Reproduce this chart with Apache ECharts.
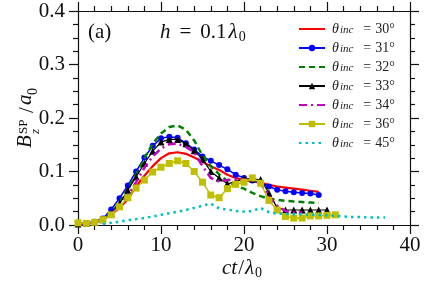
<!DOCTYPE html>
<html>
<head>
<meta charset="utf-8">
<script src="https://cdn.jsdelivr.net/npm/echarts@6/dist/echarts.min.js"></script>
<style>html,body{margin:0;padding:0;background:#fff;}#c{width:436px;height:285px;}</style>
</head>
<body>
<div id="c"></div>
<script>
// x positions (ct/lambda0) and values (B_z^SP/a0) per incidence angle
var x30 = [0,1,2,3,4,5,6,7,8,9,10,11,12,13,14,15,16,17,18,19,20,21,22,23,24,25,26,27,28,29];
var y30 = [0.002,0.003,0.005,0.010,0.020,0.032,0.048,0.072,0.092,0.110,0.125,0.134,0.136,0.133,0.126,0.118,0.110,0.103,0.094,0.088,0.084,0.082,0.079,0.075,0.072,0.070,0.068,0.066,0.064,0.062];
var x31 = [0,1,2,3,4,5,6,7,8,9,10,11,12,13,14,15,16,17,18,19,20,21,22,23,24,25,26,27,28,29];
var y31 = [0.003,0.003,0.006,0.012,0.029,0.050,0.074,0.100,0.126,0.148,0.162,0.165,0.163,0.153,0.141,0.128,0.120,0.112,0.104,0.094,0.088,0.083,0.079,0.072,0.066,0.063,0.061,0.060,0.059,0.056];
var x32 = [0,1,2,3,4,5,6,7,8,9,10,11,12,13,14,15,16,17,18,19,20,21,22,23,24,25,26,27,28,29];
var y32 = [0.002,0.003,0.005,0.010,0.022,0.042,0.068,0.095,0.125,0.152,0.171,0.183,0.186,0.178,0.158,0.130,0.110,0.095,0.082,0.073,0.068,0.060,0.054,0.049,0.047,0.045,0.044,0.043,0.042,0.041];
var x33 = [0,1,2,3,4,5,6,7,8,9,10,11,12,13,14,15,16,17,18,19,20,21,22,23,24,25,26,27,28,29,30];
var y33 = [0.002,0.003,0.005,0.010,0.022,0.040,0.065,0.090,0.115,0.138,0.155,0.160,0.160,0.152,0.139,0.123,0.100,0.088,0.077,0.081,0.087,0.086,0.085,0.060,0.032,0.028,0.028,0.028,0.028,0.028,0.028];
var x34 = [0,1,2,3,4,5,6,7,8,9,10,11,12,13,14,15,16,17,18,19,20,21,22,23,24,25,26,27];
var y34 = [0.002,0.003,0.005,0.010,0.020,0.035,0.055,0.080,0.107,0.128,0.143,0.151,0.152,0.146,0.136,0.110,0.088,0.081,0.084,0.085,0.085,0.084,0.078,0.053,0.036,0.026,0.024,0.024];
var x36 = [0,1,2,3,4,5,6,7,8,9,10,11,12,13,14,15,16,17,18,19,20,21,22,23,24,25,26,27,28,29,30,31];
var y36 = [0.004,0.003,0.005,0.010,0.019,0.034,0.051,0.069,0.084,0.099,0.108,0.115,0.120,0.115,0.100,0.080,0.056,0.051,0.068,0.076,0.080,0.088,0.078,0.046,0.028,0.016,0.013,0.013,0.017,0.017,0.018,0.019];
var x45 = [3,4,5,6,7,8,9,10,11,12,13,14,15,16,17,18,19,20,21,22,23,24,25,26,27,28,29,30,31,32,33,34,35,36,37];
var y45 = [0.002,0.004,0.006,0.009,0.011,0.013,0.016,0.019,0.022,0.025,0.028,0.032,0.036,0.040,0.031,0.029,0.026,0.025,0.026,0.032,0.024,0.021,0.021,0.020,0.020,0.019,0.019,0.018,0.017,0.016,0.015,0.015,0.014,0.014,0.014];

var angles = ['30','31','32','33','34','36','45'];
var xTicks = [0,10,20,30,40];
var yTicks = [0,0.1,0.2,0.3,0.4];

function pairs(xs, ys){ return xs.map(function(v,i){ return [v, ys[i]]; }); }

var serif = 'Liberation Serif';
var ink = '#111';
var chart = echarts.init(document.getElementById('c'), null, {renderer:'canvas'});

var axLine = {show:true, onZero:false, lineStyle:{color:ink, width:1.2}};
var axTick = {show:true, inside:false, length:9, lineStyle:{color:ink, width:1.2}};

function xAx(pos, showLabel){
  return {
    type:'value', position:pos, min:xTicks[0], max:xTicks[xTicks.length-1], interval:10,
    axisLine:axLine, axisTick:axTick, splitLine:{show:false},
    minorTick:{show:true, splitNumber:5, length:5, lineStyle:{color:ink, width:1.2}},
    axisLabel:{show:showLabel, fontFamily:serif, fontSize:21, color:ink, margin:10}
  };
}
function yAx(pos, showLabel){
  return {
    type:'value', position:pos, min:yTicks[0], max:yTicks[yTicks.length-1], interval:0.1,
    axisLine:axLine, axisTick:axTick, splitLine:{show:false},
    minorTick:{show:true, splitNumber:4, length:5, lineStyle:{color:ink, width:1.2}},
    axisLabel:{show:showLabel, fontFamily:serif, fontSize:21, color:ink, margin:13,
      formatter:function(v){ return v.toFixed(1); }}
  };
}

function mk(idx, xs, ys, color, opts){
  return {
    name: angles[idx], type:'line', data: pairs(xs, ys),
    color: color, z: 2 + idx,
    lineStyle:{color:color, width:opts.width, type:opts.type || 'solid'},
    symbol: opts.symbol || 'none', symbolSize: opts.size || 0, showSymbol: !!opts.symbol,
    itemStyle:{color:color}
  };
}

var styles = [
  {c:'#ff0000', o:{width:2.2}},
  {c:'#0000ff', o:{width:1.5, symbol:'circle', size:6}},
  {c:'#008000', o:{width:2.5, type:[6,4]}},
  {c:'#000000', o:{width:1.2, symbol:'triangle', size:7}},
  {c:'#bf00bf', o:{width:2.5, type:[8,4,2,4]}},
  {c:'#bfbf00', o:{width:1.5, symbol:'rect', size:7}},
  {c:'#00bfbf', o:{width:2.5, type:[2.5,4]}}
];
var xsAll = [x30,x31,x32,x33,x34,x36,x45];
var ysAll = [y30,y31,y32,y33,y34,y36,y45];
var series = styles.map(function(s,i){ return mk(i, xsAll[i], ysAll[i], s.c, s.o); });

var legendData = angles.map(function(a,i){
  var item = {name:a};
  if (!styles[i].o.symbol) item.itemStyle = {opacity:0};
  return item;
});

var subRich = function(size, pad){ return {fontFamily:serif, fontSize:size, verticalAlign:'bottom', lineHeight:24, padding:pad}; };

var option = {
  backgroundColor:'#fff',
  animation:false,
  grid:{left:78, right:26, top:11, bottom:60, containLabel:false},
  xAxis:[xAx('bottom', true), xAx('top', false)],
  yAxis:[yAx('left', true), yAx('right', false)],
  legend:{
    orient:'vertical', left:298, top:21, padding:0,
    itemWidth:26, itemHeight:8, itemGap:4,
    data: legendData,
    formatter:function(n){ return '{t|θ}{s|inc}{e|=}{n|' + n + '°}'; },
    textStyle:{
      fontFamily:serif, fontSize:14, color:'#222', lineHeight:14, padding:[0,0,0,2],
      rich:{
        t:{fontFamily:serif, fontStyle:'italic', fontSize:14, lineHeight:14},
        s:{fontFamily:serif, fontStyle:'italic', fontSize:11, verticalAlign:'bottom', lineHeight:14, padding:[4,4,0,1]},
        e:{fontFamily:serif, fontSize:14, lineHeight:14, padding:[0,4,0,6]},
        n:{fontFamily:serif, fontSize:14, lineHeight:14}
      }
    }
  },
  graphic:[
    {type:'text', left:88, top:22, style:{text:'(a)', font:'21px "Liberation Serif"', fill:ink}},
    {type:'text', left:160, top:22, style:{
      text:'{i|h}{e|=}{r|0.1}{i|λ}{s|0}', fill:ink,
      rich:{
        i:{fontFamily:serif, fontStyle:'italic', fontSize:21, lineHeight:24},
        e:{fontFamily:serif, fontSize:21, lineHeight:24, padding:[0,9,0,9]},
        r:{fontFamily:serif, fontSize:21, lineHeight:24, padding:[0,2,0,0]},
        s:subRich(14, [7,0,0,1])
      }}},
    {type:'text', left:222, top:258, style:{
      text:'{i|ct}{r|/}{i|λ}{s|0}', fill:ink,
      rich:{
        i:{fontFamily:serif, fontStyle:'italic', fontSize:21, lineHeight:24},
        r:{fontFamily:serif, fontSize:21, lineHeight:24, padding:[0,1,0,1]},
        s:subRich(14, [7,0,0,1])
      }}},
    {type:'group', x:36, y:148, rotation:Math.PI/2, children:[
      {type:'text', x:0, y:0, style:{text:'B', font:'italic 21px "Liberation Serif"', fill:ink, verticalAlign:'bottom'}},
      {type:'text', x:14, y:-6, style:{text:'SP', font:'13px "Liberation Serif"', fill:ink, verticalAlign:'bottom'}},
      {type:'text', x:14, y:6, style:{text:'z', font:'italic 13px "Liberation Serif"', fill:ink, verticalAlign:'bottom'}},
      {type:'text', x:35, y:2, style:{text:'/', font:'21px "Liberation Serif"', fill:ink, verticalAlign:'bottom'}},
      {type:'text', x:43, y:0, style:{text:'a', font:'italic 21px "Liberation Serif"', fill:ink, verticalAlign:'bottom'}},
      {type:'text', x:53, y:4, style:{text:'0', font:'14px "Liberation Serif"', fill:ink, verticalAlign:'bottom'}}
    ]}
  ],
  series: series
};
chart.setOption(option);
</script>
</body>
</html>
